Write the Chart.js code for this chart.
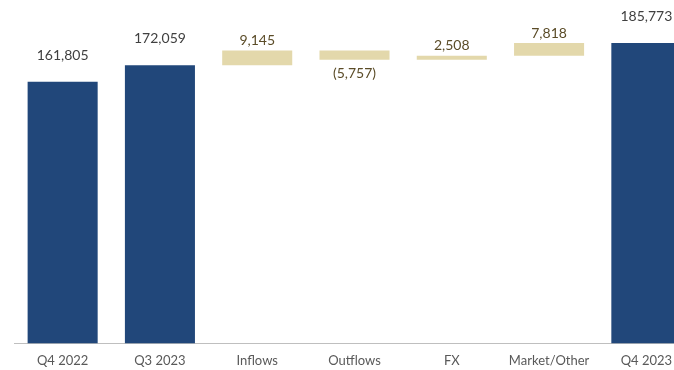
<!DOCTYPE html>
<html>
<head>
<meta charset="utf-8">
<script src="https://cdn.jsdelivr.net/npm/chart.js@4"></script>
<style>
    html, body { margin: 0; padding: 0; background: #fff; overflow: hidden; }
    #wrap { width: 674px; height: 370px; overflow: hidden; }
</style>
</head>
<body>
<div id="wrap"><canvas id="bridge" width="700" height="370"></canvas></div>
<script>
// AUM bridge, quarter over quarter
const categories = ['Q4 2022', 'Q3 2023', 'Inflows', 'Outflows', 'FX', 'Market/Other', 'Q4 2023'];
const values = [161805, 172059, 9145, -5757, 2508, 7818, 185773];
const isTotal = [true, true, false, false, false, false, true];

const totalColor = '#21477a';
const changeColor = '#e3d8ab';

// Turn values into floating [start, end] ranges
let running = 0;
const ranges = values.map((v, i) => {
    if (isTotal[i]) {
        running = v;
        return [0, v];
    }
    const start = running;
    running += v;
    return [start, running];
});

function formatValue(v) {
    const s = Math.abs(v).toLocaleString('en-US');
    return v < 0 ? `(${s})` : s;
}

const labelPlugin = {
    id: 'barLabels',
    afterDatasetsDraw(chart) {
        const ctx = chart.ctx;
        const meta = chart.getDatasetMeta(0);
        ctx.save();
        ctx.textAlign = 'center';
        ctx.textBaseline = 'middle';
        ctx.font = '14px Lato';
        meta.data.forEach((bar, i) => {
            const top = Math.min(bar.y, bar.base);
            const bottom = Math.max(bar.y, bar.base);
            const v = values[i];
            let y;
            if (isTotal[i]) {
                ctx.fillStyle = '#404040';
                y = top - 26.5;
            } else if (v < 0) {
                ctx.fillStyle = '#5b4c28';
                y = bottom + 13.5;
            } else {
                ctx.fillStyle = '#5b4c28';
                y = top - 10;
            }
            ctx.fillText(formatValue(v), bar.x, y);
        });
        ctx.restore();
    }
};

new Chart(document.getElementById('bridge').getContext('2d'), {
    type: 'bar',
    data: {
        labels: categories,
        datasets: [{
            data: ranges,
            backgroundColor: isTotal.map(t => t ? totalColor : changeColor),
            borderWidth: 0,
            categoryPercentage: 1,
            barPercentage: 0.72
        }]
    },
    options: {
        responsive: false,
        animation: false,
        layout: { padding: { left: 14, right: 5, top: 20, bottom: -9 } },
        plugins: {
            legend: { display: false },
            tooltip: { enabled: false }
        },
        scales: {
            y: {
                display: false,
                min: 0,
                max: 200000
            },
            x: {
                grid: { display: false, drawTicks: false },
                border: { display: true, color: '#bfbfbf', width: 1 },
                ticks: {
                    color: '#595959',
                    font: { family: 'Lato', size: 13 },
                    padding: 10
                }
            }
        }
    },
    plugins: [labelPlugin]
});
</script>
</body>
</html>
